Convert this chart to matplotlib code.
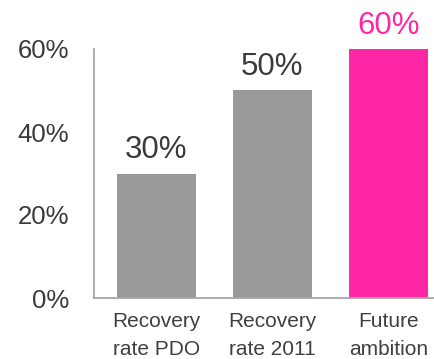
import matplotlib
matplotlib.use("Agg")
from matplotlib import pyplot as plt
from matplotlib.ticker import FuncFormatter

categories = ["Recovery\nrate PDO", "Recovery\nrate 2011", "Future\nambition"]
values = [30, 50, 60]
bar_colors = ["#999999", "#999999", "#ff27a6"]
label_colors = ["#3a3a3a", "#3a3a3a", "#ff27a6"]
yticks = [0, 20, 40, 60]

plt.rcParams["font.family"] = ["Liberation Sans", "DejaVu Sans"]

fig = plt.figure(figsize=(4.34, 3.59), dpi=100)
ax = fig.add_axes([94 / 434, 1 - 298 / 359, 1 - 94 / 434, 249 / 359])

x = list(range(len(categories)))
ax.bar(x, values, width=0.685, color=bar_colors, zorder=2)

# value labels above each bar
for xi, v, c in zip(x, values, label_colors):
    ax.annotate(f"{v}%", (xi, v), xytext=(0, 6), textcoords="offset points",
                ha="center", va="bottom", fontsize=22.5, color=c)

ax.set_xlim(-0.537, 2.394)
ax.set_ylim(0, 60)
ax.set_yticks(yticks)
ax.yaxis.set_major_formatter(FuncFormatter(lambda v, _: f"{v:.0f}%"))
ax.set_xticks(x)
ax.set_xticklabels(categories, linespacing=1.6)

ax.tick_params(axis="y", length=0, pad=18, labelsize=18.5, labelcolor="#3a3a3a")
ax.tick_params(axis="x", length=0, pad=10, labelsize=15, labelcolor="#404040")

for side in ("top", "right"):
    ax.spines[side].set_visible(False)
for side in ("left", "bottom"):
    ax.spines[side].set_color("#a6a6a6")
    ax.spines[side].set_linewidth(1.3)

fig.savefig("out.png", dpi=100)
